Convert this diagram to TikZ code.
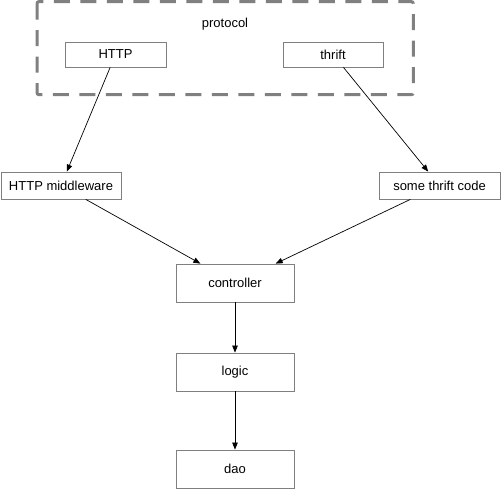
\documentclass[tikz,border=0pt]{standalone}
\usepackage{fontspec}
\setmainfont{Liberation Sans}
\usetikzlibrary{arrows.meta}
\definecolor{boxgray}{RGB}{128,128,128}
\definecolor{dashgray}{RGB}{128,128,128}
\begin{document}
\begin{tikzpicture}[x=1pt,y=-1pt,
  box/.style={draw=boxgray,line width=0.8pt,fill=white,inner sep=0pt,font=\fontsize{13}{15}\selectfont},
  conn/.style={draw=black,line width=0.7pt,-{Triangle[length=7pt,width=5.5pt]}},
  lbl/.style={inner sep=0pt,font=\fontsize{13}{15}\selectfont}]
\useasboundingbox (0,0) rectangle (501,489);
\draw[dashgray,line width=3pt,dash pattern=on 16pt off 10.5pt,rounded corners=2pt] (37,1.6) rectangle (413.3,94.7);
\node[lbl] (protocol) at (225,24) {protocol};
\node[box,minimum width=101pt,minimum height=25pt] (http) at (115.5,54.5) {HTTP};
\node[box,minimum width=100pt,minimum height=25pt] (thrift) at (333,54.5) {thrift};
\node[box,minimum width=120pt,minimum height=27pt] (mw) at (61,185.5) {HTTP middleware};
\node[box,minimum width=121pt,minimum height=27pt] (stc) at (439.5,185.5) {some thrift code};
\node[box,minimum width=118pt,minimum height=38pt] (ctrl) at (235,283) {controller};
\node[box,minimum width=118pt,minimum height=38pt] (logic) at (235,372) {logic};
\node[box,minimum width=118pt,minimum height=38pt] (dao) at (235,469) {dao};
\draw[conn] (http) -- (mw);
\draw[conn] (thrift) -- (stc);
\draw[conn] (mw) -- (ctrl);
\draw[conn] (stc) -- (ctrl);
\draw[conn] (ctrl) -- (logic);
\draw[conn] (logic) -- (dao);
\end{tikzpicture}
\end{document}
